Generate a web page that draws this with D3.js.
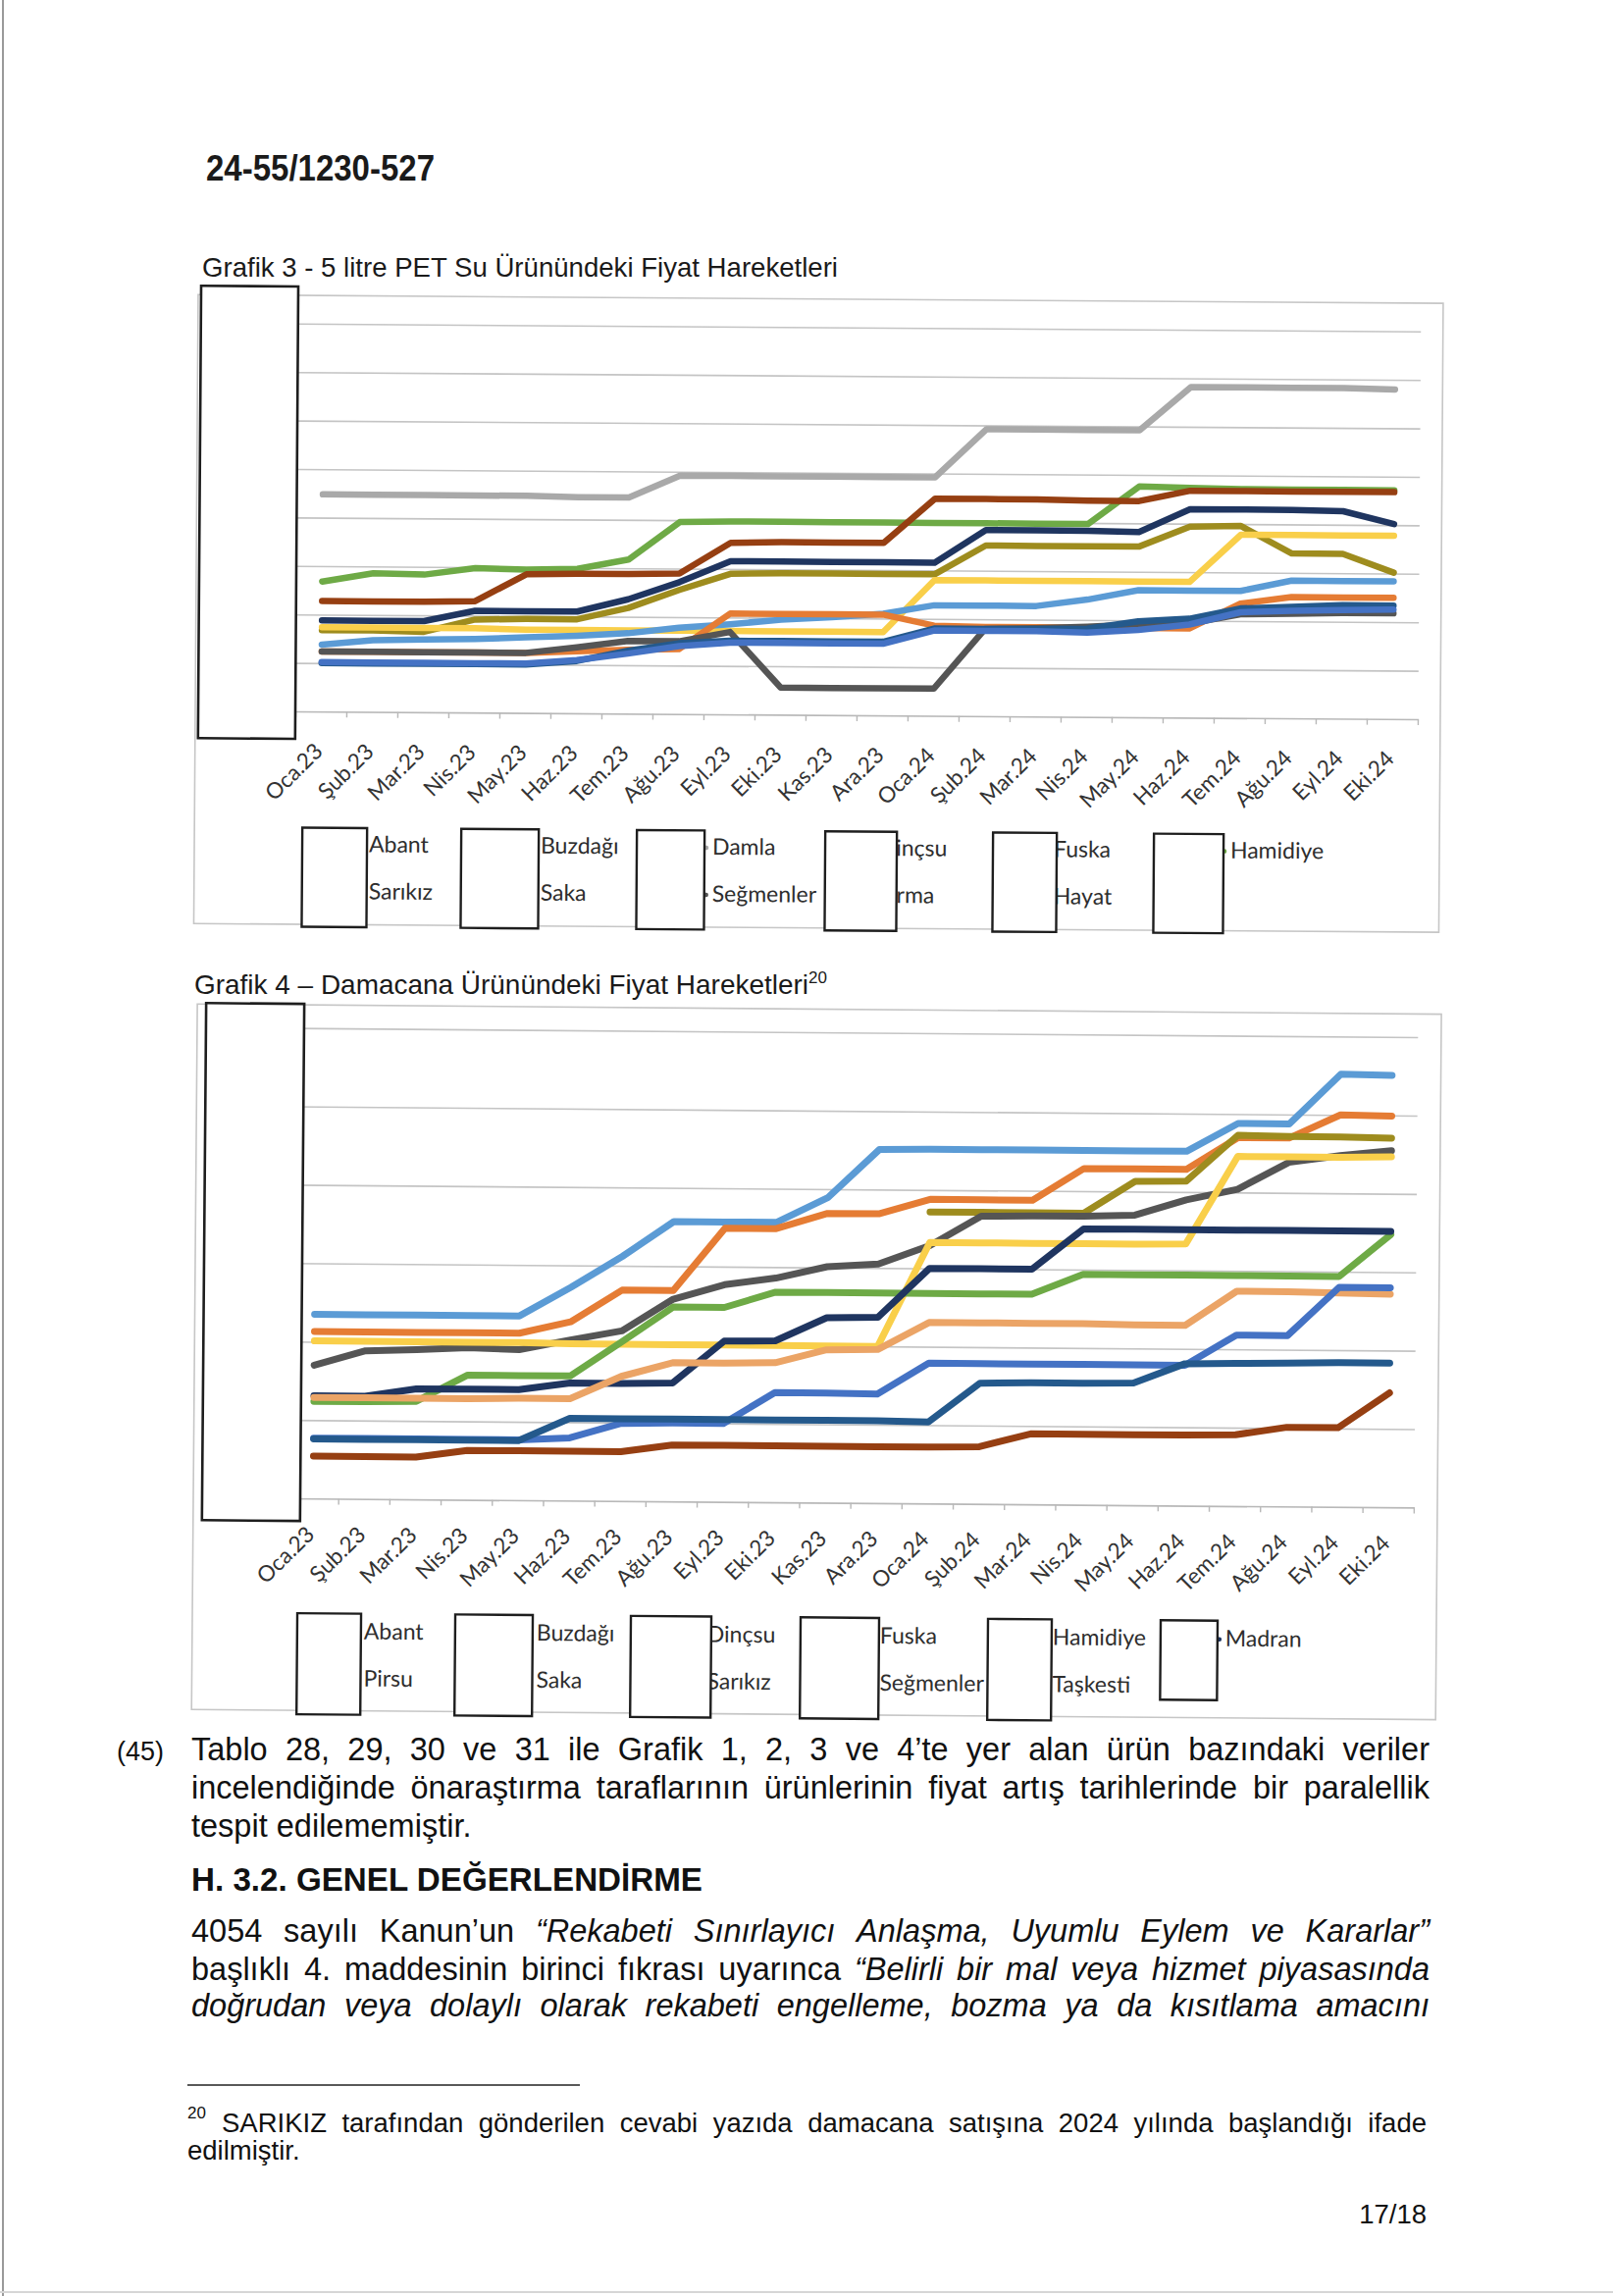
<!DOCTYPE html>
<html><head><meta charset="utf-8">
<script src="https://cdn.jsdelivr.net/npm/d3@7"></script>
<style>html,body{margin:0;padding:0;background:#fff;}svg{display:block;}</style>
</head><body>
<svg id="page" width="1644" height="2340"></svg>
<script>
// ---------- DATA ----------
const months = ["Oca.23","Şub.23","Mar.23","Nis.23","May.23","Haz.23","Tem.23","Ağu.23","Eyl.23","Eki.23","Kas.23","Ara.23","Oca.24","Şub.24","Mar.24","Nis.24","May.24","Haz.24","Tem.24","Ağu.24","Eyl.24","Eki.24"];

// Grafik 3 – 5 litre PET (y-axis labels are redacted in the source; values read on a 0–40 grid, step 5)
const petTicks = [0,5,10,15,20,25,30,35,40];
const petLegend = ["Abant","Buzdağı","Damla","Dinçsu","Fuska","Hamidiye","Sarıkız","Saka","Seğmenler","Sırma","Hayat"];
const pet_Damla     = [22.4,22.4,22.4,22.4,22.4,22.3,22.3,24.6,24.6,24.6,24.6,24.6,24.6,29.6,29.6,29.6,29.6,34.1,34.1,34.1,34.1,34.0];
const pet_Hamidiye  = [13.4,14.3,14.2,14.9,14.8,14.9,15.9,19.8,19.9,19.9,19.9,19.9,19.9,19.9,19.9,19.9,23.8,23.7,23.6,23.6,23.6,23.6];
const pet_Saka      = [11.4,11.4,11.4,11.5,14.3,14.4,14.4,14.5,17.7,17.8,17.8,17.8,22.4,22.4,22.4,22.3,22.3,23.4,23.4,23.4,23.4,23.4];
const pet_Sarikiz   = [9.4,9.4,9.4,10.5,10.5,10.5,11.8,13.6,15.8,15.8,15.8,15.8,15.8,19.2,19.2,19.2,19.1,21.5,21.5,21.5,21.4,20.1];
const pet_Sirma     = [8.4,8.4,8.3,9.6,9.7,9.7,10.9,12.8,14.5,14.6,14.6,14.6,14.6,17.6,17.6,17.6,17.6,19.7,19.8,17.0,17.0,15.1];
const pet_Dincsu    = [8.7,8.7,8.7,8.7,8.6,8.6,8.6,8.6,8.6,8.6,8.6,8.6,14.0,14.0,14.0,14.0,14.0,14.0,18.9,18.9,18.9,18.9];
const pet_Fuska     = [6.9,7.4,7.5,7.6,7.8,8.0,8.3,8.9,9.3,9.8,10.1,10.5,11.4,11.4,11.4,12.1,13.1,13.1,13.1,14.2,14.2,14.2];
const pet_Buzdagi   = [6.2,6.2,6.2,6.2,6.2,6.4,6.6,6.7,10.4,10.4,10.4,10.4,9.3,9.2,9.2,9.2,9.2,9.2,11.8,12.5,12.5,12.5];
const pet_Segmenler = [6.2,6.2,6.2,6.2,6.2,6.8,7.5,7.5,8.5,2.8,2.8,2.8,2.8,9.0,9.1,9.3,9.6,9.7,10.7,10.8,10.9,10.9];
const pet_Hayat     = [5.0,5.0,5.0,5.0,5.0,5.4,6.5,7.3,7.6,7.6,7.6,7.6,9.0,9.0,9.0,9.1,9.9,10.2,11.3,11.5,11.7,11.7];
const pet_Abant     = [5.1,5.1,5.1,5.1,5.1,5.5,6.2,7.0,7.4,7.4,7.4,7.4,8.8,8.8,8.8,8.7,9.0,9.6,10.9,11.1,11.2,11.3];

// Grafik 4 – Damacana (y-axis redacted; values read on a 0–120 grid, step 20)
const damTicks = [0,20,40,60,80,100,120];
const damLegend = ["Abant","Buzdağı","Dinçsu","Fuska","Hamidiye","Madran","Pirsu","Saka","Sarıkız","Seğmenler","Taşkesti"];
const dam_Hamidiye  = [47,47,47,47,47,54.4,62.4,71.4,71.4,71.4,77.8,90.2,90.4,90.4,90.4,90.4,90.4,90.4,97.6,97.6,110.4,110.2];
const dam_Buzdagi   = [42.6,42.6,42.6,42.6,42.6,45.6,53.8,53.8,69.8,69.8,73.8,73.8,77.6,77.6,77.6,85.8,85.8,85.8,94,94,100,99.8];
const dam_Sarikiz   = [null,null,null,null,null,null,null,null,null,null,null,null,74.4,74.4,74.4,74.4,82.6,82.8,94.6,94.4,94.4,94.2];
const dam_Segmenler = [34,37.8,38.2,38.8,38.4,41,43.4,51.6,55.4,57.2,60.2,61,65.8,73.4,73.6,73.6,74,78,80.8,87.8,89.6,91];
const dam_Fuska     = [40.2,40.2,40.2,40.2,40.2,40,40,40,40,40,40,40,66.6,66.6,66.6,66.6,66.6,66.8,89.2,89.2,89.2,89.4];
const dam_Pirsu     = [24.8,24.8,25,31.8,31.8,31.8,40.6,49.6,49.6,53.6,53.6,53.6,53.6,53.6,53.6,58.8,58.8,58.8,58.8,58.8,58.8,69.6];
const dam_Madran    = [26.2,26.2,28.2,28.2,28.2,30,30,30.2,41,41.2,47.2,47.4,60,60,60,70.4,70.4,70.4,70.4,70.4,70.4,70.4];
const dam_Dincsu    = [25.8,25.8,25.8,25.8,26,26,31.8,35.4,35.4,35.6,39,39.2,46.2,46.2,46.2,46.2,46,46,54.8,54.8,54.6,54.4];
const dam_Abant     = [15.4,15.4,15.4,15.4,15.4,16,19.8,20,20,28,28,27.8,35.8,35.8,35.8,35.8,35.8,35.8,43.6,43.6,56,56];
const dam_Taskesti  = [15.2,15.2,15.2,15.2,15.2,21,21,21,21,21,21,21,20.8,30.8,31,31,31.2,36.2,36.4,36.6,36.8,36.8];
const dam_Saka      = [10.8,10.8,10.8,12.6,12.6,12.6,12.6,14.4,14.4,14.4,14.4,14.4,14.4,14.6,18,18,18,18,18.2,20.2,20.2,29.2];

// ---------- STYLE ----------
const COL = {blue:"#4472C4", orange:"#E57C34", gray:"#A9A9A9", yellow:"#F9CF4A", lblue:"#5B9BD5", green:"#6EAA46",
  navy:"#1F3560", brown:"#963F12", dgray:"#555555", olive:"#9E8C1E", steel:"#24598C", tan:"#EBA466"};

const petSeries = [ // draw order
  ["Damla",pet_Damla,COL.gray],["Hamidiye",pet_Hamidiye,COL.green],["Saka",pet_Saka,COL.brown],
  ["Sarıkız",pet_Sarikiz,COL.navy],["Sırma",pet_Sirma,COL.olive],["Dinçsu",pet_Dincsu,COL.yellow],
  ["Fuska",pet_Fuska,COL.lblue],["Buzdağı",pet_Buzdagi,COL.orange],["Seğmenler",pet_Segmenler,COL.dgray],
  ["Hayat",pet_Hayat,COL.steel],["Abant",pet_Abant,COL.blue]];
const damSeries = [
  ["Hamidiye",dam_Hamidiye,COL.lblue],["Buzdağı",dam_Buzdagi,COL.orange],["Sarıkız",dam_Sarikiz,COL.olive],
  ["Seğmenler",dam_Segmenler,COL.dgray],["Fuska",dam_Fuska,COL.yellow],["Pirsu",dam_Pirsu,COL.green],
  ["Madran",dam_Madran,COL.navy],["Dinçsu",dam_Dincsu,COL.tan],["Abant",dam_Abant,COL.blue],
  ["Taşkesti",dam_Taskesti,COL.steel],["Saka",dam_Saka,COL.brown]];

const svg = d3.select("#page");
const SANS = "'Liberation Sans', Arial, sans-serif";
const LEG = "Lato, 'Open Sans', sans-serif";

// page edges (scan)
svg.append("line").attr("x1",3).attr("x2",3).attr("y1",0).attr("y2",2340).attr("stroke","#9a9a9a").attr("stroke-width",2);
svg.append("line").attr("x1",0).attr("x2",1644).attr("y1",2336).attr("y2",2336).attr("stroke","#d6d6d6").attr("stroke-width",2);

function drawChart(cfg){
  const g = svg.append("g").attr("transform",`rotate(${cfg.rot},${cfg.plotL},${cfg.axisY})`);
  g.append("rect").attr("x",cfg.frame[0]).attr("y",cfg.frame[1]).attr("width",cfg.frame[2]-cfg.frame[0])
    .attr("height",cfg.frame[3]-cfg.frame[1]).attr("fill","none").attr("stroke","#c6c6c6").attr("stroke-width",1.6);
  const x = d3.scaleBand().domain(months).range([cfg.plotL,cfg.plotR]).padding(0);
  const y = d3.scaleLinear().domain([0,d3.max(cfg.ticks)]).range([cfg.axisY,cfg.topY]);
  // gridlines
  g.append("g").attr("transform",`translate(${cfg.plotL},0)`)
    .call(d3.axisLeft(y).tickValues(cfg.ticks.slice(1)).tickSize(-(cfg.plotR-cfg.plotL)).tickFormat(""))
    .call(a=>a.select(".domain").remove())
    .call(a=>a.selectAll(".tick line").attr("stroke","#c4c4c4").attr("stroke-width",1.6));
  // x axis
  const xa = g.append("g").attr("transform",`translate(0,${cfg.axisY})`)
    .call(d3.axisBottom(x).tickSize(0).tickPadding(0));
  xa.select(".domain").attr("stroke","#b8b8b8").attr("stroke-width",1.7);
  xa.selectAll("text").attr("x",0).attr("y",0).attr("dy",0).attr("text-anchor","end")
    .attr("transform",`translate(3,${cfg.labelOff}) rotate(-45)`)
    .attr("font-family",LEG).attr("font-size",22.5).attr("fill","#333");
  const bounds = months.map(m=>x(m)).concat([cfg.plotR]);
  xa.selectAll("line.tk").data(bounds).join("line").attr("class","tk")
    .attr("x1",d=>d).attr("x2",d=>d).attr("y1",0).attr("y2",6).attr("stroke","#b8b8b8").attr("stroke-width",1.4);
  // series
  const line = d3.line().defined(v=>v!=null).x((v,i)=>x(months[i])+x.bandwidth()/2).y(v=>y(v));
  g.append("g").selectAll("path").data(cfg.series).join("path")
    .attr("d",d=>line(d[1])).attr("fill","none").attr("stroke",d=>d[2]).attr("stroke-width",cfg.lw)
    .attr("stroke-linejoin","round").attr("stroke-linecap","round");
  // redaction box over y labels
  g.append("rect").attr("x",cfg.box[0]).attr("y",cfg.box[1]).attr("width",cfg.box[2]).attr("height",cfg.box[3])
    .attr("fill","#fff").attr("stroke","#1e1e1e").attr("stroke-width",2.6);
  // legend
  const colorOf = Object.fromEntries(cfg.series.map(s=>[s[0],s[2]]));
  const lg = g.append("g");
  cfg.legend.forEach((name,i)=>{
    const col = i%6, row = Math.floor(i/6);
    const tx = cfg.legX[col], by = cfg.legY[row];
    lg.append("line").attr("x1",tx-44).attr("x2",tx-6).attr("y1",by-7).attr("y2",by-7)
      .attr("stroke",colorOf[name]).attr("stroke-width",4.5).attr("stroke-linecap","round");
    lg.append("text").attr("x",tx).attr("y",by).attr("font-family",LEG).attr("font-size",23)
      .attr("fill","#2e2e2e").text(name);
  });
  cfg.legBoxes.forEach(b=>{
    g.append("rect").attr("x",b[0]).attr("y",b[2]).attr("width",b[1]-b[0]).attr("height",b[3]-b[2])
      .attr("fill","#fff").attr("stroke","#1e1e1e").attr("stroke-width",2.4);
  });
}

// header + titles
svg.append("text").attr("x",210).attr("y",184).attr("font-family",SANS).attr("font-weight","bold")
  .attr("font-size",36).attr("textLength",233).attr("lengthAdjust","spacingAndGlyphs").attr("fill","#1a1a1a").text("24-55/1230-527");
svg.append("text").attr("x",206).attr("y",282).attr("font-family",SANS).attr("font-size",27.5)
  .attr("textLength",648).attr("lengthAdjust","spacingAndGlyphs").attr("fill","#1a1a1a")
  .text("Grafik 3 - 5 litre PET Su Ürünündeki Fiyat Hareketleri");
const t2 = svg.append("text").attr("x",198).attr("y",1013).attr("font-family",SANS).attr("font-size",27.5).attr("fill","#1a1a1a");
t2.append("tspan").attr("textLength",626).attr("lengthAdjust","spacingAndGlyphs").text("Grafik 4 – Damacana Ürünündeki Fiyat Hareketleri");
t2.append("tspan").attr("dy",-11).attr("font-size",17).text("20");

drawChart({rot:0.4, plotL:301.5, plotR:1445.5, axisY:725, topY:725-8*49.4, ticks:petTicks, lw:6.5,
  frame:[199,301,1468,942], box:[202,292,99,461], labelOff:42, series:petSeries, legend:petLegend,
  legX:[377,552,727,897,1075,1255], legY:[868,916],
  legBoxes:[[309,375,843.5,944.5],[471,550,843.5,944.5],[650,719,843.5,944.5],[842,915,843.5,944.5],[1013,1078,843.5,944.5],[1177,1248,843.5,944.5]]});

drawChart({rot:0.47, plotL:293, plotR:1441.4, axisY:1527, topY:1527-6*79.9, ticks:damTicks, lw:7,
  frame:[197,1024,1465,1743], box:[206,1023,100,527], labelOff:38, series:damSeries, legend:damLegend,
  legX:[372,548,722,898,1074,1250], legY:[1670,1718],
  legBoxes:[[304,369,1644,1747],[465,544,1644,1747],[644,726,1644,1747],[817,897,1644,1747],[1008,1073,1644,1747],[1184,1242,1644,1725]]});

// ---------- body text ----------
function justify(words, x0, x1, yb, size, opts={}){
  const nodes = words.map(w=>{
    const [t,it] = Array.isArray(w)?w:[w,false];
    return svg.append("text").attr("y",yb).attr("font-family",SANS).attr("font-size",size)
      .attr("font-style",it?"italic":"normal").attr("font-weight",opts.bold?"bold":"normal")
      .attr("fill","#111").text(t);
  });
  const widths = nodes.map(n=>n.node().getComputedTextLength());
  const total = d3.sum(widths);
  let gap = (x1-x0-total)/(nodes.length-1);
  let scale = 1;
  if (opts.noJustify) gap = size*0.28;
  else if (gap < size*0.2){ gap = size*0.2; scale = (x1-x0-gap*(nodes.length-1))/total; }
  let cx = x0;
  nodes.forEach((n,i)=>{
    n.attr("x",cx);
    if (scale!==1) n.attr("textLength",widths[i]*scale).attr("lengthAdjust","spacingAndGlyphs");
    cx += widths[i]*scale + gap;
  });
}
const W = s=>s.split(" ");
const It = s=>s.split(" ").map(t=>[t,true]);
svg.append("text").attr("x",119).attr("y",1794).attr("font-family",SANS).attr("font-size",27).attr("fill","#111").text("(45)");
justify(W("Tablo 28, 29, 30 ve 31 ile Grafik 1, 2, 3 ve 4’te yer alan ürün bazındaki veriler"),195,1457,1794,32.5);
justify(W("incelendiğinde önaraştırma taraflarının ürünlerinin fiyat artış tarihlerinde bir paralellik"),195,1457,1833,32.5);
justify(W("tespit edilememiştir."),195,1457,1872,32.5,{noJustify:true});
svg.append("text").attr("x",195).attr("y",1927).attr("font-family",SANS).attr("font-size",32.5).attr("font-weight","bold")
  .attr("textLength",521).attr("lengthAdjust","spacingAndGlyphs").attr("fill","#111").text("H. 3.2. GENEL DEĞERLENDİRME");
justify(W("4054 sayılı Kanun’un").concat(It("“Rekabeti Sınırlayıcı Anlaşma, Uyumlu Eylem ve Kararlar”")),195,1457,1979,32.5);
justify(W("başlıklı 4. maddesinin birinci fıkrası uyarınca").concat(It("“Belirli bir mal veya hizmet piyasasında")),195,1457,2018,32.5);
justify(It("doğrudan veya dolaylı olarak rekabeti engelleme, bozma ya da kısıtlama amacını"),195,1457,2055,32.5);

// footnote
svg.append("line").attr("x1",191).attr("x2",591).attr("y1",2125).attr("y2",2125).attr("stroke","#222").attr("stroke-width",1.6);
svg.append("text").attr("x",191).attr("y",2159).attr("font-family",SANS).attr("font-size",17).attr("fill","#111").text("20");
justify(W("SARIKIZ tarafından gönderilen cevabi yazıda damacana satışına 2024 yılında başlandığı ifade"),226,1454,2173,27.5);
svg.append("text").attr("x",191).attr("y",2201).attr("font-family",SANS).attr("font-size",27.5).attr("fill","#111").text("edilmiştir.");
svg.append("text").attr("x",1454).attr("y",2266).attr("text-anchor","end").attr("font-family",SANS).attr("font-size",27.5).attr("fill","#111").text("17/18");
</script>
</body></html>
